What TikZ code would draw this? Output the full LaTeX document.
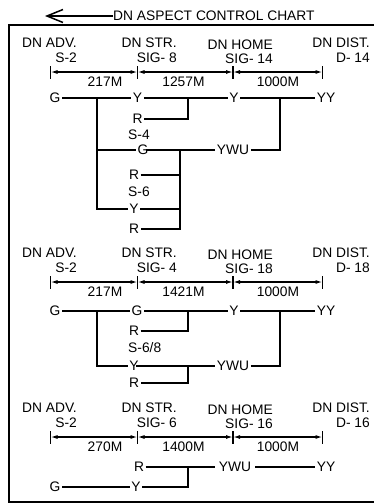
\documentclass[tikz,border=0pt]{standalone}
\usepackage{fontspec}
\setmainfont{Liberation Sans}
\usetikzlibrary{arrows.meta,calc}
\tikzset{
  lbl/.style={inner sep=0pt, font=\fontsize{13.8}{15}\selectfont},
  sig/.style={inner sep=1.5pt, font=\fontsize{13.8}{15}\selectfont},
  wire/.style={line width=1.3pt},
  thickwire/.style={line width=2pt},
  dimline/.style={line width=1.3pt, {Latex[length=7pt,width=4pt]}-{Latex[length=7pt,width=4pt]}},
  tickmark/.style={line width=1.3pt},
}
\newcommand\dnheader[7]{%
 \begin{scope}[shift={(0,#1)}]
  \node[lbl,anchor=east] (adv#2) at (77,43) {DN ADV.};
  \node[lbl,anchor=east] (advs#2) at (77,58) {S-2};
  \node[lbl,anchor=east] (str#2) at (177,43) {DN STR.};
  \node[lbl,anchor=east] (strs#2) at (177,58) {SIG- #3};
  \node[lbl,anchor=east] (home#2) at (273,45) {DN HOME};
  \node[lbl,anchor=east] (homes#2) at (273,59) {SIG- #4};
  \node[lbl,anchor=east] (dist#2) at (370,43) {DN DIST.};
  \node[lbl,anchor=east] (dists#2) at (370,58) {D- #5};
  \coordinate (ta#2) at (50.5,72);
  \coordinate (tb#2) at (137.5,72);
  \coordinate (tc#2) at (233,72);
  \coordinate (td#2) at (322.5,72);
  \foreach \t in {ta#2,tb#2,tc#2,td#2}{\draw[tickmark] ([yshift=6pt]\t) -- ([yshift=-7pt]\t);}
  \draw[dimline] (ta#2) -- (tb#2);
  \draw[dimline] (tb#2) -- (tc#2);
  \draw[dimline] (tc#2) -- (td#2);
  \node[lbl] (da#2) at (105,81.5) {#6};
  \node[lbl] (db#2) at (183.5,81.5) {#7};
  \node[lbl] (dc#2) at (278,81.5) {1000M};
 \end{scope}}
\begin{document}
\begin{tikzpicture}[x=1pt,y=-1pt]
\useasboundingbox (0,0) rectangle (374,504);
% title
\node[lbl,anchor=west] (title) at (113,16) {DN ASPECT CONTROL CHART};
\coordinate (tip) at (45,16);
\draw[line width=1.3pt,-{Straight Barb[length=16pt,width=13pt,line width=1.5pt]}] (title.west) -- (tip);
% frame
\draw[line width=1.3pt] (374,25) -- (9,25) -- (9,502) -- (374,502);
% headers
\dnheader{0}{A}{8}{14}{14}{217M}{1257M}
\dnheader{210}{B}{4}{18}{18}{217M}{1421M}
\dnheader{365}{C}{6}{16}{16}{270M}{1400M}
% ---------- section 1
\node[sig] (g1) at (55,98) {G};
\node[sig] (y1) at (137.5,98) {Y};
\node[sig] (y2) at (234,98) {Y};
\node[sig] (yy1) at (326,98) {YY};
\draw[wire] (g1) -- (y1);
\draw[wire] (y1) -- (y2);
\draw[wire] (y2) -- (yy1);
\node[sig] (r1) at (137.5,119) {R};
\coordinate (c1) at (188,98);
\draw[wire] (r1) -| (c1);
\node[lbl,anchor=west] (s4) at (128,135) {S-4};
\node[sig] (gs4) at (143,150) {G};
\node[sig] (ywu1) at (233,150) {YWU};
\node[sig] (r2) at (134,175) {R};
\node[lbl,anchor=west] (s6) at (128,192) {S-6};
\node[sig] (ys6) at (134,209) {Y};
\node[sig] (r3) at (134,229) {R};
\coordinate (v1) at (97,98);
\draw[thickwire] ([xshift=-12pt]v1) -- (y1.west);
\draw[wire] (v1) |- (ys6);
\draw[wire] (v1 |- gs4) -- (gs4.west);
\draw[wire] ([xshift=-4pt]gs4.east) -- (ywu1.west);
\coordinate (c2) at (280,98);
\draw[wire] (ywu1) -| (c2);
\coordinate (c3) at (180,150);
\draw[wire] (c3) |- (r3);
\draw[wire] (r2) -- (r2 -| c3);
\draw[wire] (ys6) -- (ys6 -| c3);
% ---------- section 2
\node[sig] (g21) at (55,311) {G};
\node[sig] (g22) at (137,311) {G};
\node[sig] (y21) at (234,311) {Y};
\node[sig] (yy2) at (326,311) {YY};
\draw[wire] (g21) -- (g22);
\draw[wire] (g22) -- (y21);
\draw[wire] (y21) -- (yy2);
\node[sig] (r21) at (134,331) {R};
\coordinate (c21) at (188,311);
\draw[wire] (r21) -| (c21);
\node[lbl,anchor=west] (s68) at (128,348) {S-6/8};
\node[sig] (y22) at (134,366) {Y};
\node[sig] (ywu2) at (233,366) {YWU};
\node[sig] (r22) at (134,383) {R};
\coordinate (v2) at (97,311);
\draw[thickwire] ([xshift=-12pt]v2) -- (g22.west);
\draw[wire] (v2) |- (y22);
\draw[wire] ([xshift=-4pt]y22.east) -- (ywu2.west);
\coordinate (c22) at (280,311);
\draw[wire] (ywu2) -| (c22);
\coordinate (c23) at (188,366);
\draw[wire] (c23) |- (r22);
% ---------- section 3
\node[sig] (r31) at (139,467) {R};
\node[sig,inner xsep=4pt] (ywu3) at (235,467) {YWU};
\node[sig] (yy3) at (326,467) {YY};
\draw[wire] (r31) -- (ywu3);
\draw[wire] (ywu3) -- (yy3);
\node[sig] (g31) at (55,487) {G};
\node[sig] (y31) at (136,487) {Y};
\draw[wire] (g31) -- (y31);
\coordinate (c31) at (188,467);
\draw[wire] (y31) -| (c31);
\end{tikzpicture}
\end{document}
